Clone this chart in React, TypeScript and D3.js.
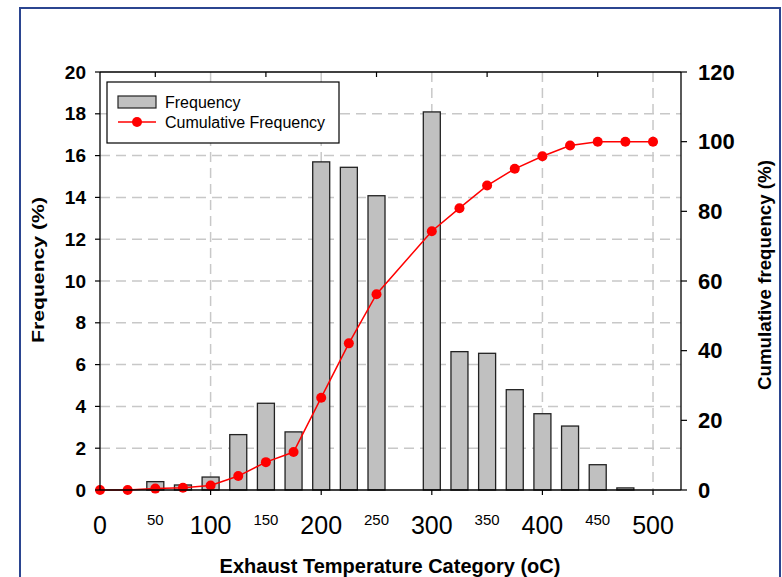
import React from "react";
import * as d3 from "d3";

const barX = [50, 75, 100, 125, 150, 175, 200, 225, 250, 300, 325, 350, 375, 400, 425, 450, 475];
const barFreq = [0.4, 0.24, 0.62, 2.65, 4.15, 2.78, 15.7, 15.44, 14.08, 18.09, 6.62, 6.54, 4.8, 3.65, 3.06, 1.21, 0.1];
const cumX = [0, 25, 50, 75, 100, 125, 150, 175, 200, 225, 250, 300, 325, 350, 375, 400, 425, 450, 475, 500];
const cumFreq = [0, 0, 0.4, 0.66, 1.3, 4.0, 8.0, 10.9, 26.5, 42.1, 56.2, 74.3, 80.9, 87.4, 92.2, 95.8, 98.9, 100, 100, 100];
const majorXTicks = [0, 100, 200, 300, 400, 500];
const minorXTicks = [50, 150, 250, 350, 450];
const leftTicks = [0, 2, 4, 6, 8, 10, 12, 14, 16, 18, 20];
const rightTicks = [0, 20, 40, 60, 80, 100, 120];

const W = 782, H = 577;
const L = 100, R = 681, T = 72, B = 490;

export default function App() {
  const x = d3.scaleLinear().domain([0, 525.3]).range([L, R]);
  const yL = d3.scaleLinear().domain([0, 20]).range([B, T]);
  const yR = d3.scaleLinear().domain([0, 120]).range([B, T]);
  const barW = 17;
  const line = d3.line<number>().x((_, i) => x(cumX[i])).y((d) => yR(d));
  const font = "Arial, 'Liberation Sans', sans-serif";
  const grid = "#c8c8c8";
  const dash = "10,6";

  return (
    <svg width={W} height={H} style={{ position: "absolute", left: 0, top: 0 }} fontFamily={font}>
      <rect x={0} y={0} width={W} height={H} fill="#fff" />
      <rect x={20} y={8} width={760} height={620} fill="none" stroke="#2B4590" strokeWidth={2} />
      {/* grid */}
      {leftTicks.filter((t) => t > 0 && t < 20).map((t) => (
        <line key={"h" + t} x1={L} x2={R} y1={yL(t)} y2={yL(t)} stroke={grid} strokeWidth={1.5} strokeDasharray={dash} />
      ))}
      {majorXTicks.filter((t) => t > 0).map((t) => (
        <line key={"v" + t} x1={x(t)} x2={x(t)} y1={T} y2={B} stroke={grid} strokeWidth={1.5} strokeDasharray={dash} />
      ))}
      {/* bars */}
      {barX.map((v, i) => (
        <rect key={"b" + i} x={x(v) - barW / 2} y={yL(barFreq[i])} width={barW} height={B - yL(barFreq[i])}
          fill="#c0c0c0" stroke="#222" strokeWidth={1.3} />
      ))}
      {/* cumulative */}
      <path d={line(cumFreq) || ""} fill="none" stroke="#ff0000" strokeWidth={1.5} />
      {cumFreq.map((v, i) => (
        <circle key={"c" + i} cx={x(cumX[i])} cy={yR(v)} r={5} fill="#ff0000" />
      ))}
      {/* axes */}
      <line x1={L} x2={R} y1={T} y2={T} stroke="#000" strokeWidth={1.3} />
      <line x1={L} x2={R} y1={B} y2={B} stroke="#000" strokeWidth={1.5} />
      <line x1={L} x2={L} y1={T} y2={B} stroke="#000" strokeWidth={1.3} />
      <line x1={R} x2={R} y1={T} y2={B} stroke="#000" strokeWidth={1.3} />
      {leftTicks.map((t) => (
        <g key={"lt" + t}>
          <line x1={L - 5} x2={L} y1={yL(t)} y2={yL(t)} stroke="#000" strokeWidth={1.2} />
          <text x={86} y={yL(t)} dy="0.35em" textAnchor="end" fontSize={19} fontWeight="bold">{t}</text>
        </g>
      ))}
      {rightTicks.map((t) => (
        <g key={"rt" + t}>
          <line x1={R} x2={R + 6} y1={yR(t)} y2={yR(t)} stroke="#000" strokeWidth={1.2} />
          <text x={698} y={yR(t)} dy="0.35em" textAnchor="start" fontSize={22} fontWeight="bold">{t}</text>
        </g>
      ))}
      {majorXTicks.map((t) => (
        <g key={"xt" + t}>
          {t > 0 && <line x1={x(t)} x2={x(t)} y1={B} y2={B + 5} stroke="#000" strokeWidth={1.2} />}
          <text x={x(t)} y={534} textAnchor="middle" fontSize={25}>{t}</text>
        </g>
      ))}
      {minorXTicks.map((t) => (
        <g key={"mt" + t}>
          <line x1={x(t)} x2={x(t)} y1={T} y2={T + 5} stroke="#000" strokeWidth={1.2} />
          <text x={x(t)} y={525} textAnchor="middle" fontSize={15}>{t}</text>
        </g>
      ))}
      {/* titles */}
      <text x={390} y={573} textAnchor="middle" fontSize={20} fontWeight="bold">Exhaust Temperature Category (oC)</text>
      <text transform={`translate(44,270) rotate(-90)`} textAnchor="middle" fontSize={17} fontWeight="bold"
        textLength={146} lengthAdjust="spacingAndGlyphs">Frequency (%)</text>
      <text transform={`translate(771,275) rotate(-90)`} textAnchor="middle" fontSize={18} fontWeight="bold"
        textLength={230} lengthAdjust="spacingAndGlyphs">Cumulative frequency (%)</text>
      {/* legend */}
      <rect x={107} y={82} width={232} height={61} fill="#fff" stroke="#000" strokeWidth={1.2} />
      <rect x={118} y={96} width={38} height={12} fill="#c0c0c0" stroke="#222" strokeWidth={1.2} />
      <text x={165} y={102} dy="0.35em" fontSize={16}>Frequency</text>
      <line x1={118} x2={156} y1={122} y2={122} stroke="#ff0000" strokeWidth={1.5} />
      <circle cx={137} cy={122} r={5} fill="#ff0000" />
      <text x={165} y={122} dy="0.35em" fontSize={16}>Cumulative Frequency</text>
    </svg>
  );
}
